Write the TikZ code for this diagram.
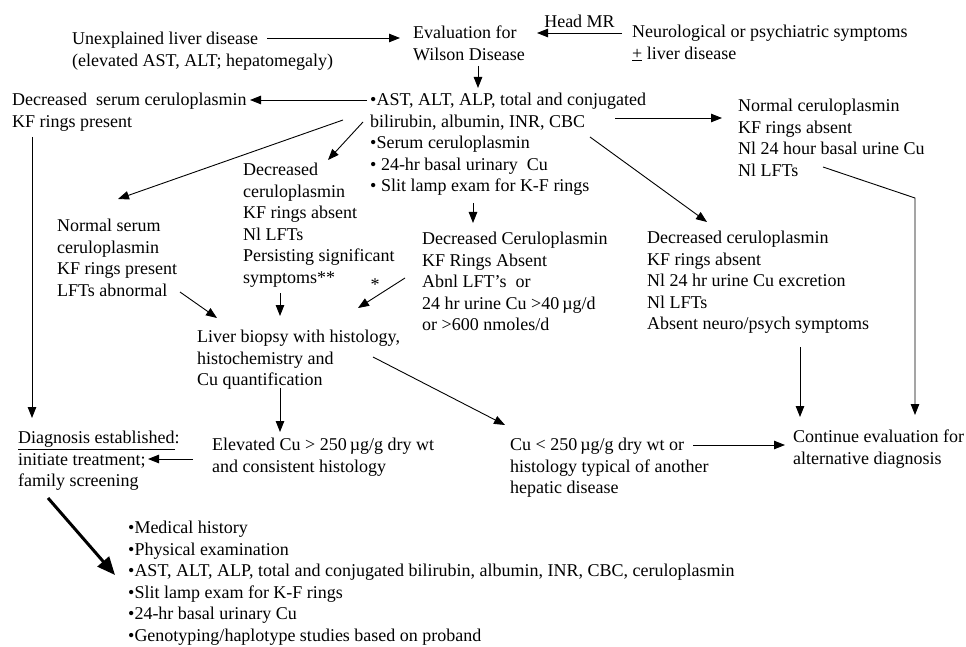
\documentclass[tikz,border=0pt]{standalone}
\usepackage{fontspec}
\setmainfont{Liberation Serif}
\usetikzlibrary{arrows.meta}
\begin{document}
\begin{tikzpicture}[x=1pt,y=-1pt,
  txt/.style={anchor=north west, inner sep=0pt, align=left, font=\fontsize{18}{21.5}\selectfont},
  arr/.style={line width=0.9pt, -{Triangle[length=11pt,width=8.5pt]}},
  thickarr/.style={line width=3pt, -{Triangle[length=18pt,width=15pt]}}]
\fill[white] (0,0) rectangle (966,647);
\useasboundingbox (0,0) rectangle (966,647);

% text blocks
\node[txt] (unexp) at (72,32) {Unexplained liver disease\\(elevated AST, ALT; hepatomegaly)};
\node[txt] (eval) at (413,26) {Evaluation for\\Wilson Disease};
\node[txt] (neuro) at (632,25) {Neurological or psychiatric symptoms\\\underline{+} liver disease};
\node[txt] (list) at (370,93) {•AST, ALT, ALP, total and conjugated\\bilirubin, albumin, INR, CBC\\•Serum ceruloplasmin\\• 24-hr basal urinary\ \ Cu\\• Slit lamp exam for K-F rings};
\node[txt] (decserum) at (12,93) {Decreased\ \ serum ceruloplasmin\\KF rings present};
\node[txt] (normcer) at (738,99) {Normal ceruloplasmin\\KF rings absent\\Nl 24 hour basal urine Cu\\Nl LFTs};
\node[txt] (decL) at (243,163) {Decreased\\ceruloplasmin\\KF rings absent\\Nl LFTs\\Persisting significant\\symptoms**};
\node[txt] (normser) at (57,219) {Normal serum\\ceruloplasmin\\KF rings present\\LFTs abnormal};
\node[txt] (decM) at (422,232) {Decreased Ceruloplasmin\\KF Rings Absent\\Abnl LFT's\ \ or\\24 hr urine Cu >40\,µg/d\\or >600 nmoles/d};
\node[txt] (decR) at (647,231) {Decreased ceruloplasmin\\KF rings absent\\Nl 24 hr urine Cu excretion\\Nl LFTs\\Absent neuro/psych symptoms};
\node[txt, anchor=center] (star) at (375,285) {*};
\node[txt] (liver) at (197,330) {Liver biopsy with histology,\\histochemistry and\\Cu quantification};
\node[txt] (elev) at (212,438) {Elevated Cu > 250\,µg/g dry wt\\and consistent histology};
\node[txt] (diag) at (18,431) {\underline{Diagnosis established}:\\initiate treatment;\\family screening};
\node[txt] (culess) at (510,438) {Cu < 250\,µg/g dry wt or\\histology typical of another\\hepatic disease};
\node[txt] (cont) at (793,430) {Continue evaluation for\\alternative diagnosis};
\node[txt] (bottom) at (128,521) {•Medical history\\•Physical examination\\•AST, ALT, ALP, total and conjugated bilirubin, albumin, INR, CBC, ceruloplasmin\\•Slit lamp exam for K-F rings\\•24-hr basal urinary Cu\\•Genotyping/haplotype studies based on proband};

% connectors
\draw[arr] ([shift={(195,6)}]unexp.north west) -- ([shift={(-13,12)}]eval.north west);
\draw[arr] ([shift={(-10,8)}]neuro.north west) -- node[txt, anchor=south, yshift=5pt] (headmr) {Head MR} ([shift={(124,7)}]eval.north west);
\draw[arr] ([shift={(65,40)}]eval.north west) -- ([shift={(108,-5)}]list.north west);
\draw[arr] ([shift={(-3,7)}]list.north west) -- ([shift={(238,7)}]decserum.north west);
\draw[arr] ([shift={(245,25)}]list.north west) -- ([shift={(-16,19)}]normcer.north west);
\draw[arr] ([shift={(-27,27)}]list.north west) -- ([shift={(61,-20)}]normser.north west);
\draw[arr] ([shift={(-7,29)}]list.north west) -- ([shift={(85,-3)}]decL.north west);
\draw[arr] ([shift={(103,110)}]list.north west) -- ([shift={(51,-9)}]decM.north west);
\draw[arr] ([shift={(220,44)}]list.north west) -- ([shift={(60,-9)}]decR.north west);
\draw[arr] ([shift={(20,44)}]decserum.north west) -- ([shift={(14,-13)}]diag.north west);
\draw[arr] ([shift={(123,73)}]normser.north west) -- ([shift={(20,-12)}]liver.north west);
\draw[arr] ([shift={(37,130)}]decL.north west) -- ([shift={(83,-14)}]liver.north west);
\draw[arr] ([shift={(-17,46)}]decM.north west) -- ([shift={(161,-22)}]liver.north west);
\draw[arr] ([shift={(83,58)}]liver.north west) -- ([shift={(68,-6)}]elev.north west);
\draw[arr] ([shift={(176,27)}]liver.north west) -- ([shift={(-5,-13)}]culess.north west);
\draw[arr] ([shift={(-19,21)}]elev.north west) -- ([shift={(130,28)}]diag.north west);
\draw[arr] ([shift={(183,7)}]culess.north west) -- ([shift={(-8,15)}]cont.north west);
\draw[arr] ([shift={(153,116)}]decR.north west) -- ([shift={(7,-13)}]cont.north west);
\draw[arr] ([shift={(85,68)}]normcer.north west) -- ([shift={(177,99)}]normcer.north west) -- ([shift={(122,-15)}]cont.north west);
\draw[thickarr] ([shift={(30,67)}]diag.north west) -- ([shift={(-13,54)}]bottom.north west);
\end{tikzpicture}
\end{document}
